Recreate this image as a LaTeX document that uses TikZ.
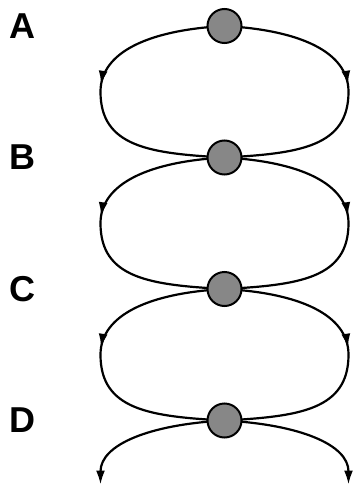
\documentclass[tikz,border=0pt]{standalone}
\usepackage{fontspec}
\setsansfont{Liberation Sans}
\usetikzlibrary{positioning,arrows.meta,decorations.markings,backgrounds}
\definecolor{beadgray}{gray}{0.53}
\tikzset{bead/.style={shape=circle, draw, fill=beadgray, minimum size=17pt, inner sep=0pt, outer sep=0pt, line width=1pt}}
\tikzset{letter/.style={font=\sffamily\bfseries\fontsize{18}{21}\selectfont, inner sep=0pt}}
\tikzset{swing/.style={line width=1.1pt, postaction={decorate}, decoration={markings, mark=at position 0.47 with {\arrow{Latex[length=7pt,width=4.5pt]}}}}}

\begin{document}
\begin{tikzpicture}[x=0.5pt, y=0.5pt, node distance=48.75pt]
\useasboundingbox (-224.5,26) rectangle (129.5,-467);
\begin{scope}[every node/.style={bead}]
    \node (A) {};
    \node[below=of A] (B) {};
    \node[below=of B] (C) {};
    \node[below=of C] (D) {};
\end{scope}
\foreach \n in {A,B,C,D}
    \node[letter] (label\n) at ([xshift=-101pt]\n) {\n};
\coordinate (tailL) at ([shift={(-124,-64)}]D.center);
\coordinate (tailR) at ([shift={(124,-64)}]D.center);
% strands behind the beads
\begin{scope}[on background layer]
\foreach \p/\q in {A/B,B/C,C/D} {
    \draw[swing] (\p.center) .. controls +(-75,-4) and +(0,40) .. ++(-124,-65.75) .. controls +(0,-55) and +(-75,4) .. (\q.center);
    \draw[swing] (\p.center) .. controls +(75,-4) and +(0,40) .. ++(124,-65.75) .. controls +(0,-55) and +(75,4) .. (\q.center);
}
\draw[line width=1.1pt, -{Latex[length=7pt,width=4.5pt]}] (D.center) .. controls +(-75,-4) and +(0,40) .. (tailL);
\draw[line width=1.1pt, -{Latex[length=7pt,width=4.5pt]}] (D.center) .. controls +(75,-4) and +(0,40) .. (tailR);
\end{scope}
\end{tikzpicture}
\end{document}
